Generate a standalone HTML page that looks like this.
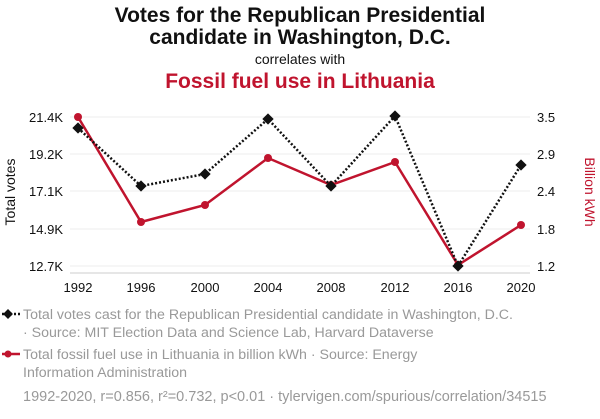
<!DOCTYPE html>
<html><head><meta charset="utf-8"><style>
body{margin:0;background:#fff;font-family:"Liberation Sans",sans-serif;}
</style></head><body>
<svg width="600" height="414" xmlns="http://www.w3.org/2000/svg" font-family="Liberation Sans, sans-serif">
<rect width="600" height="414" fill="#fff"/>
<text x="300" y="22" text-anchor="middle" font-size="21" font-weight="bold" fill="#111">Votes for the Republican Presidential</text>
<text x="300" y="44" text-anchor="middle" font-size="21" font-weight="bold" fill="#111">candidate in Washington, D.C.</text>
<text x="300" y="64" text-anchor="middle" font-size="14" fill="#111">correlates with</text>
<text x="300" y="88" text-anchor="middle" font-size="21" font-weight="bold" fill="#c0142e">Fossil fuel use in Lithuania</text>
<g stroke="#eee" stroke-width="1">
<line x1="70" y1="117" x2="530" y2="117"/><line x1="70" y1="154" x2="530" y2="154"/><line x1="70" y1="191" x2="530" y2="191"/><line x1="70" y1="229" x2="530" y2="229"/><line x1="70" y1="266" x2="530" y2="266"/>
</g>
<line x1="70" y1="273" x2="530" y2="273" stroke="#ccc"/>
<g font-size="13" fill="#111" text-anchor="end">
<text x="63" y="122">21.4K</text><text x="63" y="159">19.2K</text><text x="63" y="196">17.1K</text><text x="63" y="234">14.9K</text><text x="63" y="271">12.7K</text>
</g>
<g font-size="13" fill="#111" text-anchor="start">
<text x="537" y="122">3.5</text><text x="537" y="159">2.9</text><text x="537" y="196">2.4</text><text x="537" y="234">1.8</text><text x="537" y="271">1.2</text>
</g>
<g font-size="13" fill="#111" text-anchor="middle">
<text x="78" y="292">1992</text><text x="141" y="292">1996</text><text x="205" y="292">2000</text><text x="268" y="292">2004</text><text x="331" y="292">2008</text><text x="395" y="292">2012</text><text x="458" y="292">2016</text><text x="521" y="292">2020</text>
</g>
<text transform="translate(15,192) rotate(-90)" text-anchor="middle" font-size="14" fill="#111">Total votes</text>
<text transform="translate(585,192) rotate(90)" text-anchor="middle" font-size="14" fill="#c0142e">Billion kWh</text>
<polyline fill="none" stroke="#c0142e" stroke-width="2.5" points="78,117 141,222 205,205 268,158 331,185 395,162 458,265 521,225"/>
<g fill="#c0142e"><circle cx="78" cy="117" r="4"/><circle cx="141" cy="222" r="4"/><circle cx="205" cy="205" r="4"/><circle cx="268" cy="158" r="4"/><circle cx="331" cy="185" r="4"/><circle cx="395" cy="162" r="4"/><circle cx="458" cy="265" r="4"/><circle cx="521" cy="225" r="4"/></g>
<polyline fill="none" stroke="#111" stroke-width="2.5" stroke-dasharray="2,2" points="78,128 141,186 205,174 268,119 331,186 395,116 458,266 521,165"/>
<g fill="#111">
<rect x="-4" y="-4" width="8" height="8" transform="translate(78,128) rotate(45)"/>
<rect x="-4" y="-4" width="8" height="8" transform="translate(141,186) rotate(45)"/>
<rect x="-4" y="-4" width="8" height="8" transform="translate(205,174) rotate(45)"/>
<rect x="-4" y="-4" width="8" height="8" transform="translate(268,119) rotate(45)"/>
<rect x="-4" y="-4" width="8" height="8" transform="translate(331,186) rotate(45)"/>
<rect x="-4" y="-4" width="8" height="8" transform="translate(395,116) rotate(45)"/>
<rect x="-4" y="-4" width="8" height="8" transform="translate(458,266) rotate(45)"/>
<rect x="-4" y="-4" width="8" height="8" transform="translate(521,165) rotate(45)"/>
</g>
<line x1="2" y1="314" x2="20" y2="314" stroke="#111" stroke-width="2.5" stroke-dasharray="2,2"/>
<rect x="-3.5" y="-3.5" width="7" height="7" transform="translate(8,314) rotate(45)" fill="#111"/>
<text x="23" y="319" font-size="14.2" fill="#999">Total votes cast for the Republican Presidential candidate in Washington, D.C.</text>
<text x="23" y="337" font-size="14.2" fill="#999">· Source: MIT Election Data and Science Lab, Harvard Dataverse</text>
<line x1="2" y1="354" x2="20" y2="354" stroke="#c0142e" stroke-width="2.5"/>
<circle cx="8" cy="354" r="3.5" fill="#c0142e"/>
<text x="23" y="359" font-size="14.2" fill="#999">Total fossil fuel use in Lithuania in billion kWh · Source: Energy</text>
<text x="23" y="377" font-size="14.2" fill="#999">Information Administration</text>
<text x="23" y="401" font-size="14.5" fill="#999">1992-2020, r=0.856, r²=0.732, p&lt;0.01 · tylervigen.com/spurious/correlation/34515</text>
</svg>
</body></html>
